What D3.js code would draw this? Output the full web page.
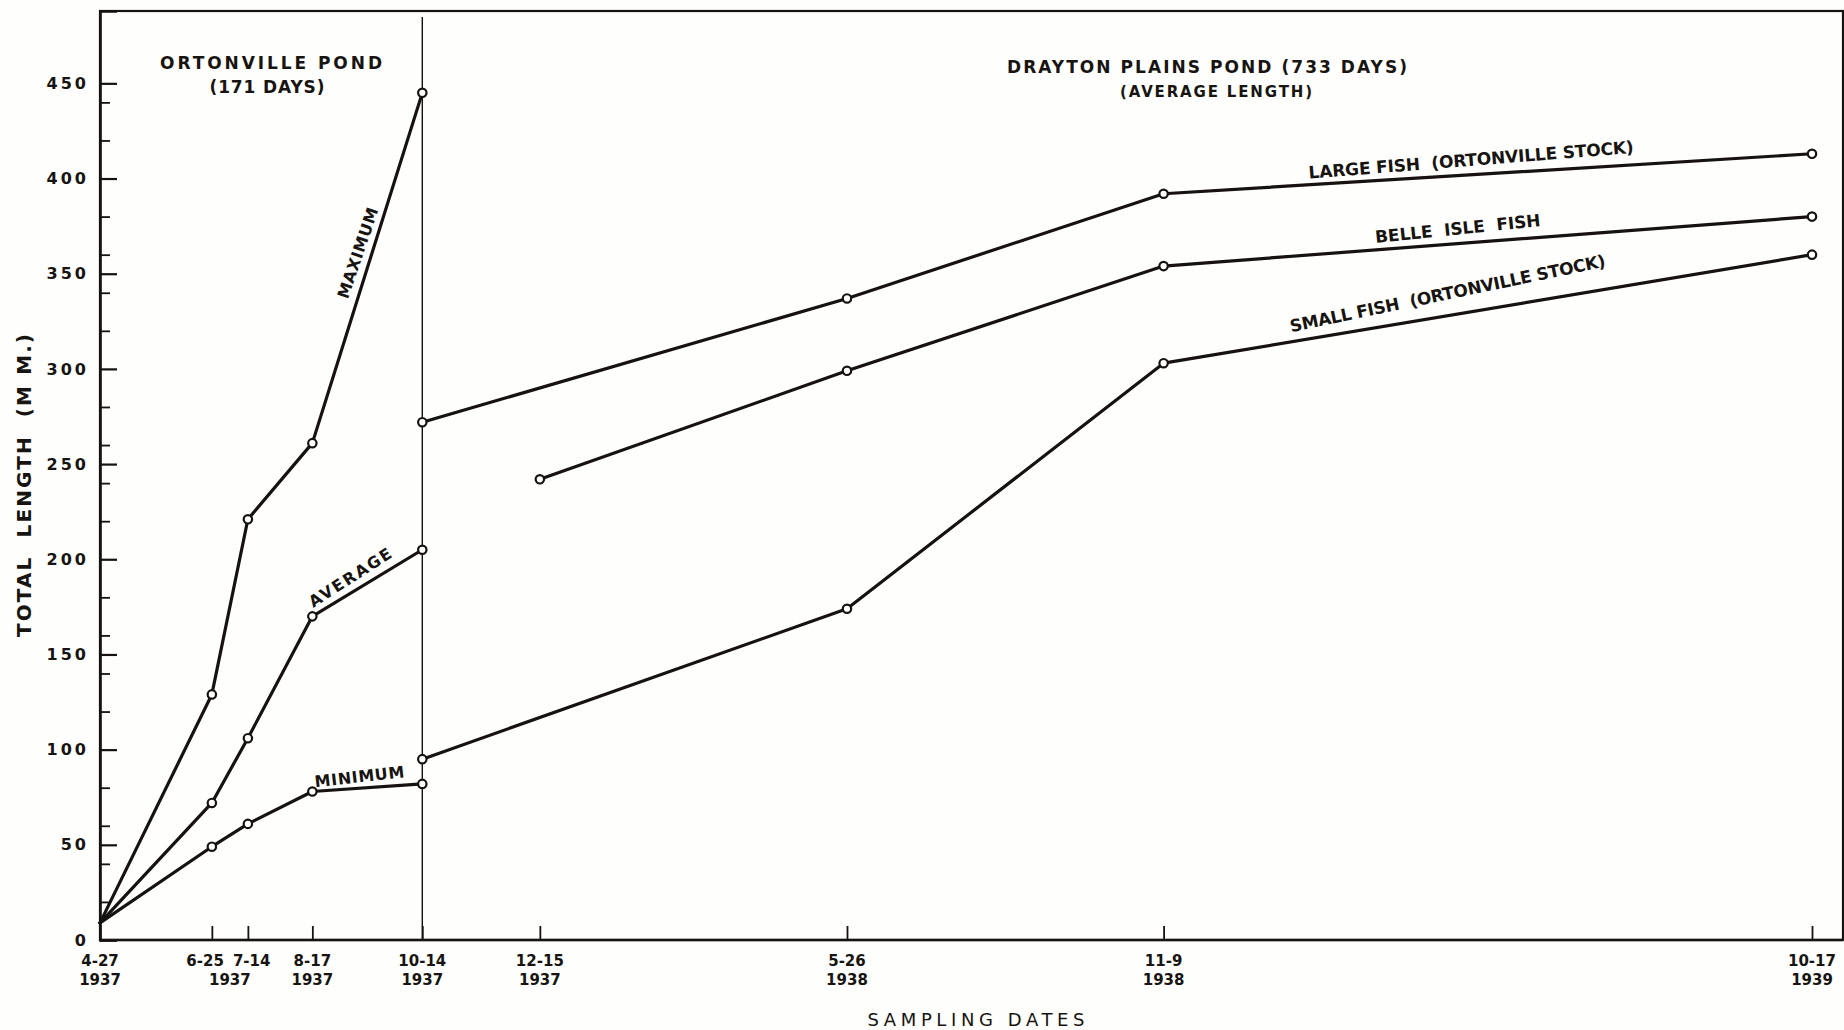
<!DOCTYPE html>
<html>
<head>
<meta charset="utf-8">
<script src="https://cdn.jsdelivr.net/npm/d3@7"></script>
<style>
  html, body { margin: 0; padding: 0; background: #fefefc; }
  svg { display: block; }
  text { fill: #171411; font-family: "DejaVu Sans", sans-serif; white-space: pre; }
</style>
</head>
<body>
<svg id="chart" width="1844" height="1030"></svg>
<script>
// Sampling dates along the time axis
const tickDates = ["1937-04-27", "1937-06-25", "1937-07-14", "1937-08-17", "1937-10-14",
                   "1937-12-15", "1938-05-26", "1938-11-09", "1939-10-17"];
const tickDayLabels  = ["4-27", "6-25", "7-14", "8-17", "10-14", "12-15", "5-26", "11-9", "10-17"];
const tickYearLabels = ["1937", "1937", "1937", "1937", "1937", "1937", "1938", "1938", "1939"];

// Length axis
const majorTicks = [0, 50, 100, 150, 200, 250, 300, 350, 400, 450];
const minorTicks = [20, 40, 60, 80, 120, 140, 160, 180, 220, 240, 260, 280, 320, 340, 360, 380, 420, 440];

// Ortonville Pond (171 days) — total length, mm
const ortonvilleDates = ["1937-04-27", "1937-06-25", "1937-07-14", "1937-08-17", "1937-10-14"];
const maximumLength = [9, 129, 221, 261, 445];
const averageLength = [9, 72, 106, 170, 205];
const minimumLength = [9, 49, 61, 78, 82];

// Drayton Plains Pond (733 days) — average length, mm
const largeFishDates = ["1937-10-14", "1938-05-26", "1938-11-09", "1939-10-17"];
const largeFishLength = [272, 337, 392, 413];
const belleIsleDates = ["1937-12-15", "1938-05-26", "1938-11-09", "1939-10-17"];
const belleIsleLength = [242, 299, 354, 380];
const smallFishDates = ["1937-10-14", "1938-05-26", "1938-11-09", "1939-10-17"];
const smallFishLength = [95, 174, 303, 360];

const parse = d3.timeParse("%Y-%m-%d");
const ink = "#151210";
const paper = "#fefefc";

const svg = d3.select("#chart");

const x = d3.scaleTime()
  .domain([parse("1937-04-27"), parse("1939-10-17")])
  .range([100, 1812]);
const y = d3.scaleLinear().domain([0, 488]).range([940, 11]);
const plotRight = 1843;

// Frame
svg.append("rect")
  .attr("x", x.range()[0]).attr("y", y(488))
  .attr("width", plotRight - x.range()[0]).attr("height", y(0) - y(488))
  .attr("fill", "none").attr("stroke", ink).attr("stroke-width", 2.2);

// Divider at the transfer date between ponds
svg.append("line")
  .attr("x1", x(parse("1937-10-14"))).attr("x2", x(parse("1937-10-14")))
  .attr("y1", y(488) + 6).attr("y2", y(0))
  .attr("stroke", ink).attr("stroke-width", 1.4);

// Y axis: major ticks with labels, minor ticks without
const yMajor = svg.append("g").attr("transform", `translate(${x.range()[0]},0)`)
  .call(d3.axisLeft(y).tickValues(majorTicks).tickSize(-17).tickPadding(11));
yMajor.select(".domain").attr("stroke", ink).attr("stroke-width", 2.6);
yMajor.selectAll(".tick line").attr("stroke", ink).attr("stroke-width", 2.2);
yMajor.selectAll(".tick text")
  .attr("fill", ink).attr("font-family", "DejaVu Sans, sans-serif")
  .attr("font-size", 16).attr("font-weight", "bold")
  .attr("letter-spacing", "3px");

const yMinor = svg.append("g").attr("transform", `translate(${x.range()[0]},0)`)
  .call(d3.axisLeft(y).tickValues(minorTicks).tickSize(-10).tickFormat(""));
yMinor.select(".domain").remove();
yMinor.selectAll(".tick line").attr("stroke", ink).attr("stroke-width", 1.8);

// X axis: ticks pointing inward, two-line date labels
const tickDateObjs = tickDates.map(parse);
const xAxis = svg.append("g").attr("transform", `translate(0,${y(0)})`)
  .call(d3.axisBottom(x).tickValues(tickDateObjs).tickSize(-14).tickFormat(""));
xAxis.select(".domain").remove();
xAxis.selectAll(".tick line").attr("stroke", ink).attr("stroke-width", 1.8);
svg.append("line")
  .attr("x1", x.range()[0]).attr("x2", plotRight)
  .attr("y1", y(0)).attr("y2", y(0))
  .attr("stroke", ink).attr("stroke-width", 2.6);

const xLabels = svg.append("g").attr("font-size", 15).attr("font-weight", "bold");
tickDateObjs.forEach((d, i) => {
  const px = x(d);
  const prev = i > 0 ? x(tickDateObjs[i - 1]) : -Infinity;
  const next = i < tickDateObjs.length - 1 ? x(tickDateObjs[i + 1]) : Infinity;
  let dx = 0, anchor = "middle", showYear = true, yearX = px;
  if (next - px < 50) { anchor = "end"; dx = 12; showYear = false; }
  else if (px - prev < 50) { anchor = "start"; dx = -15; yearX = (px + prev) / 2; }
  xLabels.append("text")
    .attr("x", px + dx).attr("y", y(0) + 26)
    .attr("text-anchor", anchor).text(tickDayLabels[i]);
  if (showYear) {
    xLabels.append("text")
      .attr("x", yearX).attr("y", y(0) + 45)
      .attr("text-anchor", "middle").text(tickYearLabels[i]);
  }
});

// Axis titles
svg.append("text")
  .attr("transform", `translate(31,${(y(0) + y(488)) / 2 + 10}) rotate(-90)`)
  .attr("text-anchor", "middle").attr("font-size", 20).attr("font-weight", "bold")
  .attr("textLength", 303).attr("lengthAdjust", "spacing")
  .text("TOTAL  LENGTH  (M M.)");
svg.append("text")
  .attr("x", 976).attr("y", 1026)
  .attr("text-anchor", "middle").attr("font-size", 18)
  .attr("textLength", 217).attr("lengthAdjust", "spacing")
  .text("SAMPLING DATES");

// Pond headings
function heading(txt, cx, by, size, len) {
  svg.append("text")
    .attr("x", cx).attr("y", by).attr("text-anchor", "middle")
    .attr("font-size", size).attr("font-weight", "bold")
    .attr("textLength", len).attr("lengthAdjust", "spacing")
    .text(txt);
}
heading("ORTONVILLE POND", 271, 69, 17, 222);
heading("(171 DAYS)", 267, 93, 17, 115);
heading("DRAYTON PLAINS POND (733 DAYS)", 1207, 73, 17, 400);
heading("(AVERAGE LENGTH)", 1216, 97, 15, 192);

// Growth lines
const line = d3.line().x(d => x(d[0])).y(d => y(d[1]));
const series = [
  { dates: ortonvilleDates, values: maximumLength, markFrom: 1 },
  { dates: ortonvilleDates, values: averageLength, markFrom: 1 },
  { dates: ortonvilleDates, values: minimumLength, markFrom: 1 },
  { dates: largeFishDates, values: largeFishLength, markFrom: 0 },
  { dates: belleIsleDates, values: belleIsleLength, markFrom: 0 },
  { dates: smallFishDates, values: smallFishLength, markFrom: 0 }
];
series.forEach(s => {
  const pts = s.dates.map((d, i) => [parse(d), s.values[i]]);
  svg.append("path").datum(pts)
    .attr("d", line).attr("fill", "none")
    .attr("stroke", ink).attr("stroke-width", 3.2)
    .attr("stroke-linejoin", "round").attr("stroke-linecap", "round");
  svg.append("g").selectAll("circle").data(pts.slice(s.markFrom)).join("circle")
    .attr("cx", d => x(d[0])).attr("cy", d => y(d[1])).attr("r", 4.2)
    .attr("fill", paper).attr("stroke", ink).attr("stroke-width", 2.2);
});

// Labels set along a segment of a line
function lineLabel(txt, dates, values, seg, t, offset, extraDeg, size, len) {
  const x0 = x(parse(dates[seg])), y0 = y(values[seg]);
  const x1 = x(parse(dates[seg + 1])), y1 = y(values[seg + 1]);
  const ang = Math.atan2(y1 - y0, x1 - x0) * 180 / Math.PI + extraDeg;
  const px = x0 + t * (x1 - x0), py = y0 + t * (y1 - y0);
  svg.append("text")
    .attr("transform", `translate(${px},${py}) rotate(${ang})`)
    .attr("x", 0).attr("y", -offset)
    .attr("text-anchor", "middle").attr("font-size", size).attr("font-weight", "bold")
    .attr("textLength", len).attr("lengthAdjust", "spacing")
    .text(txt);
}
lineLabel("MAXIMUM", ortonvilleDates, maximumLength, 3, 0.53, 8, 1.5, 16, 95);
lineLabel("AVERAGE", ortonvilleDates, averageLength, 3, 0.41, 8, -1.5, 16, 95);
lineLabel("MINIMUM", ortonvilleDates, minimumLength, 3, 0.44, 6, -2.5, 16, 90);
lineLabel("LARGE FISH  (ORTONVILLE STOCK)", largeFishDates, largeFishLength, 2, 0.476, 9, -1, 17, 326);
lineLabel("BELLE  ISLE  FISH", belleIsleDates, belleIsleLength, 2, 0.456, 9, -1.5, 17, 166);
lineLabel("SMALL FISH  (ORTONVILLE STOCK)", smallFishDates, smallFishLength, 2, 0.445, 16, -2.3, 17, 322);
</script>
</body>
</html>
